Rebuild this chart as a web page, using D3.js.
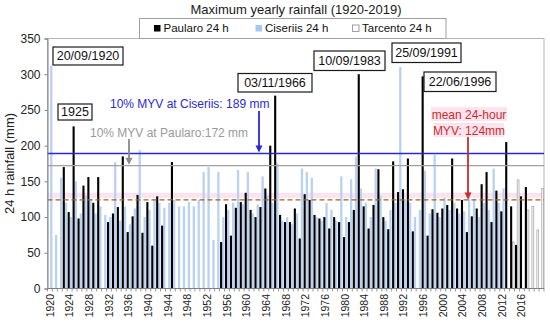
<!DOCTYPE html>
<html><head><meta charset="utf-8">
<script src="https://cdn.jsdelivr.net/npm/d3@7"></script>
<style>body{margin:0;background:#fff;} svg{font-family:"Liberation Sans",Arial,sans-serif;display:block;}</style>
</head><body><svg id="c" width="550" height="324"></svg>
<script>
// ---------- DATA ----------
const years = d3.range(1920, 2021);
const paularo = [
 null,null,null,170,107,227,98,144,156,120,
 156,null,93,105,114,185,79,101,131,78,
 121,60,129,88,null,177,null,null,null,null,
 null,null,null,null,null,65,118,74,113,121,
 134,110,100,114,140,200,270,103,93,93,
 112,70,132,124,103,98,100,84,100,93,
 72,93,110,300,115,84,117,167,100,83,
 178,135,139,182,80,null,297,74,111,106,
 112,117,182,112,124,79,101,112,146,163,
 93,137,108,205,115,61,129,142,null,null,
 null];
const ciseriis = [
 312,75,155,120,100,150,105,130,125,105,
 115,103,100,177,95,115,90,112,194,100,
 110,125,120,113,120,124,115,115,121,115,
 124,163,170,68,163,100,110,120,166,118,
 163,105,118,157,130,120,175,95,100,90,
 105,168,163,155,100,95,120,110,95,157,
 100,153,185,140,120,100,168,130,95,110,
 120,310,125,120,100,110,165,105,187,100,
 127,110,120,105,108,135,125,100,120,110,
 168,120,140,null,null,null,null,null,null,null,
 null];
const tarcentoYears = [2014, 2015, 2017, 2018, 2019, 2020];
const tarcento = [65, 152, 110, 115, 82, 140];
const yTicks = [0, 50, 100, 150, 200, 250, 300, 350];
const xLabelYears = d3.range(1920, 2020, 4);
const seriesNames = ["Paularo 24 h", "Ciseriis 24 h", "Tarcento 24 h"];
const refValues = [189, 172, 124];
const eventLabels = ["20/09/1920", "1925", "03/11/1966", "10/09/1983", "25/09/1991", "22/06/1996"];

// ---------- LAYOUT ----------
const svg = d3.select("#c");
const L = 47.5, R = 544, T = 38.5, B = 288.5;
const x = d3.scaleBand().domain(years).range([L, R]).paddingInner(0).paddingOuter(0);
const y = d3.scaleLinear().domain([0, 350]).range([B, T]);
const bw = x.bandwidth();

// title
svg.append("text").attr("x", 296).attr("y", 13.5).attr("text-anchor", "middle")
  .attr("font-size", 13).attr("fill", "#1a1a1a").text("Maximum yearly rainfall (1920-2019)");

// pink band
svg.append("rect").attr("x", L).attr("width", R - L)
  .attr("y", y(134)).attr("height", y(127) - y(134)).attr("fill", "#fde3ee");

// plot frame
svg.append("rect").attr("x", L).attr("y", T).attr("width", R - L).attr("height", B - T)
  .attr("fill", "none").attr("stroke", "#b4b4b4").attr("stroke-width", 1);

// Ciseriis bars
svg.append("g").selectAll("rect").data(years.map((yr, i) => ({yr, v: ciseriis[i]})).filter(d => d.v != null))
  .join("rect")
  .attr("x", d => x(d.yr) + 2.6).attr("width", 2.3)
  .attr("y", d => y(d.v)).attr("height", d => B - y(d.v))
  .attr("fill", "#b9d2f3");

// Tarcento bars
svg.append("g").selectAll("rect").data(tarcentoYears.map((yr, i) => ({yr, v: tarcento[i]})))
  .join("rect")
  .attr("x", d => x(d.yr) + 2.7).attr("width", 1.8)
  .attr("y", d => y(d.v)).attr("height", d => B - y(d.v))
  .attr("fill", "#fff").attr("stroke", "#a8a8a8").attr("stroke-width", 0.8);

// Paularo bars
svg.append("g").selectAll("rect").data(years.map((yr, i) => ({yr, v: paularo[i]})).filter(d => d.v != null))
  .join("rect")
  .attr("x", d => x(d.yr) + 0.5).attr("width", 2.1)
  .attr("y", d => y(d.v)).attr("height", d => B - y(d.v))
  .attr("fill", "#000");

// reference lines
svg.append("line").attr("x1", L).attr("x2", R).attr("y1", y(refValues[0])).attr("y2", y(refValues[0]))
  .attr("stroke", "#2a2ad4").attr("stroke-width", 1.4);
svg.append("line").attr("x1", L).attr("x2", R).attr("y1", y(refValues[1])).attr("y2", y(refValues[1]))
  .attr("stroke", "#a0a0a0").attr("stroke-width", 1.4);
svg.append("line").attr("x1", L).attr("x2", R).attr("y1", y(refValues[2])).attr("y2", y(refValues[2]))
  .attr("stroke", "#a0602a").attr("stroke-width", 1.3).attr("stroke-dasharray", "5,3");

// axes
const ya = svg.append("g").attr("transform", `translate(${L},0)`)
  .call(d3.axisLeft(y).tickValues(yTicks).tickSize(3).tickPadding(4));
ya.select(".domain").attr("stroke", "#808080");
ya.selectAll(".tick line").attr("stroke", "#808080");
ya.selectAll("text").attr("font-size", 12).attr("fill", "#222").attr("font-family", "Liberation Sans, Arial, sans-serif");

svg.append("line").attr("x1", L).attr("x2", R).attr("y1", B).attr("y2", B).attr("stroke", "#808080");
svg.append("g").selectAll("line").data(years.concat([2021])).join("line")
  .attr("x1", d => d === 2021 ? R : x(d)).attr("x2", d => d === 2021 ? R : x(d))
  .attr("y1", B).attr("y2", B + 3).attr("stroke", "#808080").attr("stroke-width", 0.8);
svg.append("g").selectAll("text").data(xLabelYears).join("text")
  .attr("transform", d => `translate(${x(d) + bw / 2 + 3.6},${B + 5.5}) rotate(-90)`)
  .attr("text-anchor", "end").attr("font-size", 10.5).attr("fill", "#222").text(d => d);

// y axis title
svg.append("text").attr("transform", `translate(14,${(T + B) / 2}) rotate(-90)`)
  .attr("text-anchor", "middle").attr("font-size", 13).attr("fill", "#222").text("24 h rainfall (mm)");

// legend
const lg = svg.append("g");
lg.append("rect").attr("x", 139.5).attr("y", 18.5).attr("width", 306.5).attr("height", 20)
  .attr("fill", "#fff").attr("stroke", "#a0a0a0");
const legendItems = [
  {x: 154, fill: "#000", stroke: "none"},
  {x: 255.5, fill: "#a9c8f1", stroke: "none"},
  {x: 352.5, fill: "#fff", stroke: "#888"}];
legendItems.forEach((it, i) => {
  lg.append("rect").attr("x", it.x).attr("y", 25).attr("width", 6.5).attr("height", 6.5)
    .attr("fill", it.fill).attr("stroke", it.stroke).attr("stroke-width", 0.8);
  lg.append("text").attr("x", it.x + 9.5).attr("y", 32.3).attr("font-size", 11.5).attr("fill", "#111").text(seriesNames[i]);
});

// event boxes
const boxes = [
  {x0: 53, x1: 123, y0: 47, y1: 65},
  {x0: 58, x1: 92, y0: 104, y1: 120},
  {x0: 238, x1: 312, y0: 73.5, y1: 92},
  {x0: 314, x1: 385, y0: 51, y1: 70.5},
  {x0: 392, x1: 461, y0: 43, y1: 62.5},
  {x0: 424, x1: 496, y0: 72, y1: 91.5}];
boxes.forEach((b, i) => {
  svg.append("rect").attr("x", b.x0).attr("y", b.y0).attr("width", b.x1 - b.x0).attr("height", b.y1 - b.y0)
    .attr("fill", "#fff").attr("stroke", "#1a1a1a").attr("stroke-width", 1.2);
  svg.append("text").attr("x", (b.x0 + b.x1) / 2).attr("y", (b.y0 + b.y1) / 2 + 4.3)
    .attr("text-anchor", "middle").attr("font-size", 12.5).attr("fill", "#111").text(eventLabels[i]);
});

// annotations
function arrow(xp, ya0, ya1, color, w) {
  svg.append("line").attr("x1", xp).attr("x2", xp).attr("y1", ya0).attr("y2", ya1 - 5)
    .attr("stroke", color).attr("stroke-width", w);
  svg.append("path").attr("d", `M${xp - 3.5},${ya1 - 7} L${xp + 3.5},${ya1 - 7} L${xp},${ya1} Z`).attr("fill", color);
}
svg.append("text").attr("x", 110).attr("y", 108).attr("font-size", 12).attr("fill", "#2a2ad4")
  .text("10% MYV at Ciseriis: " + refValues[0] + " mm");
arrow(259, 111, y(refValues[0]) - 1, "#2a2ad4", 1.8);

svg.append("text").attr("x", 90).attr("y", 137).attr("font-size", 12).attr("fill", "#9a9a9a")
  .text("10% MYV at Paularo:" + refValues[1] + " mm");
arrow(129, 139, y(refValues[1]) - 1, "#8a8a8a", 1.8);

svg.append("rect").attr("x", 431).attr("y", 107).attr("width", 76).attr("height", 14).attr("fill", "#fde3ee");
svg.append("rect").attr("x", 434).attr("y", 123).attr("width", 70).attr("height", 14).attr("fill", "#fde3ee");
svg.append("text").attr("x", 469).attr("y", 119).attr("text-anchor", "middle").attr("font-size", 12)
  .attr("fill", "#c62f2f").text("mean 24-hour");
svg.append("text").attr("x", 469).attr("y", 135).attr("text-anchor", "middle").attr("font-size", 12)
  .attr("fill", "#c62f2f").text("MYV: " + refValues[2] + "mm");
arrow(468, 137, y(refValues[2]) - 0.5, "#c62f2f", 1.8);
</script></body></html>
